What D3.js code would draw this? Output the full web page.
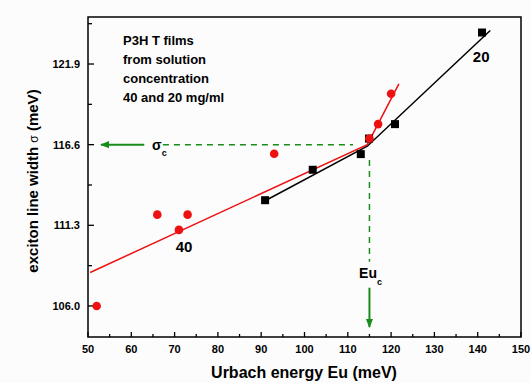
<!DOCTYPE html>
<html>
<head>
<meta charset="utf-8">
<script src="https://cdn.jsdelivr.net/npm/d3@7"></script>
<style>
  body { margin: 0; background: #fcfcfc; }
  svg { font-family: "Liberation Sans", Arial, sans-serif; }
</style>
</head>
<body>
<svg id="chart" width="531" height="383"></svg>
<script>
// 40 mg/ml film (red circles)
var eu40 = [52, 66, 71, 73, 93, 115, 117, 120];
var sigma40 = [106.0, 112.0, 111.0, 112.0, 116.0, 117.0, 117.95, 119.95];
// 20 mg/ml film (black squares)
var eu20 = [90.9, 101.9, 113.0, 114.9, 120.9, 141.0];
var sigma20 = [112.95, 114.95, 115.98, 117.0, 117.95, 123.97];
// fitted line segments
var fit40 = [[50.5, 108.2], [114.5, 116.6], [121.8, 120.6]];
var fit20 = [[90.8, 112.9], [114.5, 116.5], [142.9, 124.1]];
// crossing point
var euC = 115, sigmaC = 116.6;

var xTicks = [50, 60, 70, 80, 90, 100, 110, 120, 130, 140, 150];
var yTicks = [106.0, 111.3, 116.6, 121.9];
var noteLines = ["P3H T films", "from solution", "concentration", "40 and 20 mg/ml"];

var margin = {left: 88, top: 17, right: 10, bottom: 46};
var svg = d3.select("#chart"),
    width = +svg.attr("width") - margin.left - margin.right,
    height = +svg.attr("height") - margin.top - margin.bottom;

var g = svg.append("g")
    .attr("transform", "translate(" + margin.left + "," + margin.top + ")");

var x = d3.scaleLinear().domain([50, 150]).range([0, width]);
var y = d3.scaleLinear().domain([103.96, 124.99]).range([height, 0]);

// arrow marker
var defs = svg.append("defs");
defs.append("marker")
    .attr("id", "garrow")
    .attr("viewBox", "0 0 10 10")
    .attr("refX", 9).attr("refY", 5)
    .attr("markerWidth", 9).attr("markerHeight", 9)
    .attr("markerUnits", "userSpaceOnUse")
    .attr("orient", "auto")
  .append("path")
    .attr("d", "M0,1 L10,5 L0,9 Z")
    .attr("fill", "#1a8c1a");

// frame
g.append("rect")
    .attr("width", width).attr("height", height)
    .attr("fill", "none").attr("stroke", "#000").attr("stroke-width", 1.5);

// x axis, ticks pointing inward
var xAxis = g.append("g")
    .attr("transform", "translate(0," + height + ")");
xAxis.selectAll(".maj").data(xTicks).enter().append("line")
    .attr("x1", function(d) { return x(d); }).attr("x2", function(d) { return x(d); })
    .attr("y1", 0).attr("y2", -5).attr("stroke", "#000").attr("stroke-width", 1.3);
xAxis.selectAll(".min").data(d3.range(55, 150, 10)).enter().append("line")
    .attr("x1", function(d) { return x(d); }).attr("x2", function(d) { return x(d); })
    .attr("y1", 0).attr("y2", -3).attr("stroke", "#000").attr("stroke-width", 1.3);
xAxis.selectAll("text").data(xTicks).enter().append("text")
    .attr("x", function(d) { return x(d); })
    .attr("y", 16)
    .attr("text-anchor", "middle")
    .attr("font-size", 11).attr("font-weight", "bold")
    .text(function(d) { return d; });

// y axis
var yAxis = g.append("g");
yAxis.selectAll(".maj").data(yTicks).enter().append("line")
    .attr("x1", 0).attr("x2", 6)
    .attr("y1", function(d) { return y(d); }).attr("y2", function(d) { return y(d); })
    .attr("stroke", "#000").attr("stroke-width", 1.3);
yAxis.selectAll(".min").data([108.65, 113.95, 119.25, 124.55]).enter().append("line")
    .attr("x1", 0).attr("x2", 4)
    .attr("y1", function(d) { return y(d); }).attr("y2", function(d) { return y(d); })
    .attr("stroke", "#000").attr("stroke-width", 1.3);
yAxis.selectAll("text").data(yTicks).enter().append("text")
    .attr("x", -8)
    .attr("y", function(d) { return y(d) + 4; })
    .attr("text-anchor", "end")
    .attr("font-size", 11).attr("font-weight", "bold")
    .text(function(d) { return d.toFixed(1); });

// axis titles
svg.append("text")
    .attr("x", 304).attr("y", 378)
    .attr("text-anchor", "middle")
    .attr("font-size", 16).attr("font-weight", "bold")
    .text("Urbach energy Eu (meV)");

var yl = svg.append("text")
    .attr("transform", "translate(38,181) rotate(-90)")
    .attr("text-anchor", "middle")
    .attr("font-size", 15).attr("font-weight", "bold");
yl.append("tspan").text("exciton line width ");
yl.append("tspan").attr("font-weight", "normal").attr("font-size", 12).text("σ");
yl.append("tspan").text(" (meV)");

// green guides to the crossing point
var green = "#1a8c1a";
g.append("line")
    .attr("x1", x(67.3)).attr("x2", x(111.2))
    .attr("y1", y(sigmaC)).attr("y2", y(sigmaC))
    .attr("stroke", green).attr("stroke-width", 1.5).attr("stroke-dasharray", "6,5");
g.append("line")
    .attr("x1", x(63)).attr("x2", x(53))
    .attr("y1", y(sigmaC)).attr("y2", y(sigmaC))
    .attr("stroke", green).attr("stroke-width", 2)
    .attr("marker-end", "url(#garrow)");
g.append("line")
    .attr("x1", x(euC)).attr("x2", x(euC))
    .attr("y1", y(115.6)).attr("y2", y(108.9))
    .attr("stroke", green).attr("stroke-width", 1.5).attr("stroke-dasharray", "6,5");
g.append("line")
    .attr("x1", x(euC)).attr("x2", x(euC))
    .attr("y1", y(107.2)).attr("y2", height - 10)
    .attr("stroke", green).attr("stroke-width", 2)
    .attr("marker-end", "url(#garrow)");

// σc and Euc labels
var sc = g.append("text")
    .attr("x", x(64.8)).attr("y", y(sigmaC) + 5)
    .attr("font-size", 14).attr("font-weight", "bold");
sc.append("tspan").text("σ");
sc.append("tspan").attr("dy", 6).attr("font-size", 9).text("c");

var ec = g.append("text")
    .attr("x", x(112.6)).attr("y", y(107.85))
    .attr("font-size", 14).attr("font-weight", "bold");
ec.append("tspan").text("Eu");
ec.append("tspan").attr("dy", 7).attr("font-size", 9).text("c");

// fit lines
var line = d3.line()
    .x(function(d) { return x(d[0]); })
    .y(function(d) { return y(d[1]); });
g.append("path").datum(fit20)
    .attr("d", line).attr("fill", "none")
    .attr("stroke", "#000").attr("stroke-width", 1.5);
g.append("path").datum(fit40)
    .attr("d", line).attr("fill", "none")
    .attr("stroke", "#ee1111").attr("stroke-width", 1.5);

// data points
g.selectAll(".sq").data(eu20).enter().append("rect")
    .attr("class", "sq")
    .attr("x", function(d) { return x(d) - 4; })
    .attr("y", function(d, i) { return y(sigma20[i]) - 4; })
    .attr("width", 8).attr("height", 8)
    .attr("fill", "#000");
g.selectAll(".dot").data(eu40).enter().append("circle")
    .attr("class", "dot")
    .attr("cx", function(d) { return x(d); })
    .attr("cy", function(d, i) { return y(sigma40[i]); })
    .attr("r", 4.3)
    .attr("fill", "#ee1111");

// annotations
g.selectAll(".note").data(noteLines).enter().append("text")
    .attr("x", 123 - margin.left)
    .attr("y", function(d, i) { return 45 - margin.top + i * 19; })
    .attr("font-size", 13).attr("font-weight", "bold")
    .text(function(d) { return d; });
g.append("text")
    .attr("x", x(72.2)).attr("y", y(109.55))
    .attr("text-anchor", "middle")
    .attr("font-size", 15).attr("font-weight", "bold")
    .text("40");
g.append("text")
    .attr("x", x(140.8)).attr("y", y(122.0))
    .attr("text-anchor", "middle")
    .attr("font-size", 15).attr("font-weight", "bold")
    .text("20");
</script>
</body>
</html>
